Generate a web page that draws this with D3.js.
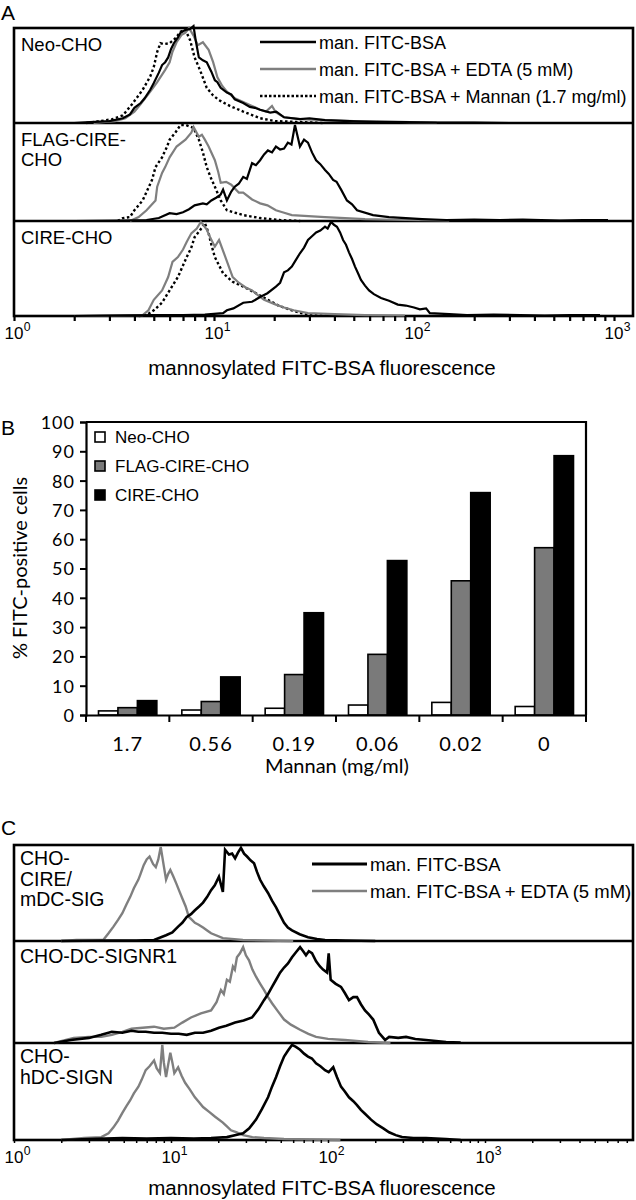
<!DOCTYPE html>
<html><head><meta charset="utf-8">
<script src="https://cdnjs.cloudflare.com/ajax/libs/d3/7.8.5/d3.min.js"></script>
<style>body{margin:0;background:#fff}svg{display:block}</style>
</head><body><svg id="c" width="636" height="1200"></svg>
<script>
// ---------- Panel A data: [fluorescence, % of max count] ----------
const aNeoBlack = [[2.0,0],[2.4,1],[3.0,2],[3.5,5],[3.8,9],[4.0,16],[4.3,21],[4.5,26],[4.8,35],[5.0,42],[5.3,53],[5.5,61],[5.7,64],[5.9,69],[6.1,78],[6.3,84],[6.6,90],[6.8,95],[7.2,98],[7.6,99],[7.9,102],[8.1,87],[8.4,69],[8.8,66],[9.2,64],[9.7,54],[10.1,45],[10.4,43],[10.8,37],[11.6,32],[12.2,30],[12.7,25],[14.0,21],[15.1,17],[16,16],[17.0,14],[19.1,11],[20.5,12],[22.4,6],[26.9,4],[30,5],[35.9,3],[47.9,2],[65,1],[90,1],[130,0.5],[200,0.5],[300,0]];
const aNeoEdta = [[2.5,0],[3.2,2],[3.6,5],[4.0,12],[4.3,20],[4.8,33],[5.2,43],[5.7,56],[6.0,64],[6.2,75],[6.5,85],[6.9,93],[7.2,95],[7.5,100],[7.9,92],[8.3,82],[8.8,85],[9.4,77],[9.9,64],[10.4,48],[11.0,39],[11.6,33],[12.7,26],[14.0,22],[15.5,18],[17.0,14],[18.2,12],[19.5,18],[20.4,11],[22.4,6],[26.9,4],[36,3],[50,2],[65,2],[95,1],[130,0.5]];
const aNeoMannan = [[2.3,0],[2.7,2],[3.1,4],[3.5,8],[3.9,20],[4.4,35],[4.8,49],[5.0,59],[5.2,75],[5.4,84],[5.6,83],[6.0,84],[6.4,89],[6.8,96],[7.2,98],[7.6,87],[8.0,69],[8.5,56],[9.2,37],[9.9,29],[10.6,24],[12.0,18],[14.0,12],[17.0,5],[20.2,2],[27,1],[35,0]];
const aFlagBlack = [[2,0],[3.5,0.5],[4.6,1],[5.3,3],[6.0,8],[6.5,7],[7.0,9],[7.5,12],[8.0,16],[8.8,18],[9.2,17],[9.7,21],[10.3,24],[10.8,27],[11.1,32],[11.6,21],[12.2,30],[12.7,35],[13.3,38],[14.0,45],[14.6,43],[15.5,59],[16.2,57],[17.0,62],[17.8,68],[18.6,72],[19.5,70],[20.4,76],[21.4,73],[22.4,74],[23.4,80],[24.4,78],[25.4,98],[26.9,76],[28.2,83],[29.5,80],[30.9,70],[32.4,62],[34,58],[35.9,52],[37.5,48],[39.4,42],[41,40],[43.2,32],[46.2,21],[49,17],[51.9,11],[62.4,6],[75,4],[91,3],[110,2],[145,1],[200,1.5],[269,1],[350,1.5],[537,0.5],[700,1],[933,1]];
const aFlagEdta = [[3.8,0],[4.2,4],[4.6,11],[5.1,21],[5.2,35],[5.5,49],[5.7,55],[6.0,65],[6.5,76],[7.2,83],[7.7,90],[7.9,96],[8.4,86],[8.7,88],[9.0,83],[9.4,76],[10.1,62],[10.5,50],[10.8,39],[11.5,40],[12.2,37],[13.3,29],[14.0,29],[15.5,22],[17.0,18],[18.5,16],[20.4,11],[22,9],[24.5,6],[35.9,4],[56.9,2],[91,1],[150,0.5]];
const aFlagMannan = [[3.3,0],[3.5,3],[3.8,4],[4.0,11],[4.4,21],[4.9,42],[5.1,55],[5.5,65],[5.8,75],[6.0,83],[6.4,90],[6.8,98],[7.2,98],[7.9,95],[8.4,83],[8.8,70],[9.2,55],[9.6,45],[10.1,35],[10.8,21],[11.6,11],[14.0,6],[17.0,3],[21.4,1],[27,0]];
const aCireBlack = [[2,0],[3,0.5],[5,1],[7.0,1],[9,1.5],[11.1,3],[11.6,6],[12.5,8],[14.0,14],[15.5,15],[17.0,20],[18.5,24],[20.4,31],[21.4,35],[22.4,46],[23.4,48],[24.5,52],[25.5,58],[26.9,66],[28.2,72],[29.5,80],[30.9,84],[32.4,88],[34,90],[35.9,94],[37,92],[38.5,99],[39.8,96],[41.2,94],[42.7,88],[44.2,80],[45.7,75],[47.3,67],[49,60],[50.7,52],[52.5,45],[54.3,38],[56.9,32],[59.6,27],[63,23],[68.4,19],[75,16],[83,12],[91,11],[100,9],[107,7],[115,8],[120,3],[150,2],[184,1],[250,1.5],[339,1],[450,0.5],[600,1],[851,1]];
const aCireEdta = [[2,0],[3,0.5],[4.0,1],[4.4,1],[4.7,6],[5.0,17],[5.5,27],[5.9,41],[6.2,57],[6.6,62],[7.0,70],[7.3,78],[7.7,87],[8.2,92],[8.6,99],[9.2,91],[9.6,82],[10.1,73],[10.6,80],[11.4,62],[12.4,41],[13.3,35],[14.4,30],[15.5,27],[17.0,20],[17.8,17],[20.4,12],[22.4,9],[25,6],[29.5,3],[40,2],[56.9,1],[90,0.5]];
const aCireMannan = [[4.2,0],[4.6,1],[5.0,6],[5.5,14],[6.0,27],[6.6,41],[7.3,62],[7.7,72],[8.0,83],[8.5,90],[9.0,98],[9.4,87],[9.7,75],[10.1,62],[11.1,45],[12.4,36],[14.0,31],[16.2,24],[18.6,17],[21,11],[24.5,6],[29.5,1],[40,0]];

// ---------- Panel B data ----------
const mannanConc = ["1.7","0.56","0.19","0.06","0.02","0"];
const neoCho = [1.4,1.7,2.3,3.4,4.3,2.9];
const flagCireCho = [2.5,4.6,13.8,20.7,45.8,57.1];
const cireCho = [4.9,13.0,34.9,52.7,75.9,88.5];
const bSeriesNames = ["Neo-CHO","FLAG-CIRE-CHO","CIRE-CHO"];
const bTicks = [0,10,20,30,40,50,60,70,80,90,100];

// ---------- Panel C data ----------
const cCireBlack = [[2,0],[4,0.5],[6,0.5],[7.8,1],[9.3,6],[10.2,9],[11.1,15],[11.8,19],[12.6,25],[13.4,28],[14.2,32],[15.1,36],[16.0,40],[17.0,46],[18.0,53],[19.0,58],[20.2,67],[21.4,51],[22.1,95],[23.4,90],[24.5,91],[25.6,86],[26.7,92],[27.9,97],[29.2,91],[30.5,88],[32.1,84],[33.8,81],[35.3,72],[36.9,64],[39,57],[41.5,50],[44,42],[46.7,35],[49.5,27],[52.5,19],[55.5,14],[59.0,11],[66,7],[74.6,4],[85,2],[95.7,1],[130,0.5],[200,0]];
const cCireEdta = [[2.0,0],[2.5,1],[3.0,1],[3.7,1],[4.0,8],[4.3,15],[4.6,22],[4.9,29],[5.2,38],[5.5,46],[5.8,55],[6.2,64],[6.4,70],[6.7,79],[7.0,85],[7.3,88],[7.7,80],[8.0,77],[8.3,85],[8.6,98],[9.0,78],[9.3,64],[9.6,70],[9.9,74],[10.3,68],[10.8,60],[11.3,52],[11.9,43],[12.4,36],[13.0,25],[13.6,22],[14.2,19],[15.0,17],[16.0,14],[17.0,11],[18.0,8],[21.4,3],[28.7,1],[40,0.5],[60,0]];
const cSignr1Black = [[1.8,0],[2.3,3],[3,5],[3.6,8],[4.2,11],[4.9,10],[5.6,12],[6.2,11],[6.9,11],[7.8,10],[8.8,10],[10,9],[11.2,9],[12.6,8],[14.2,10],[16.0,10],[18,12],[20.2,15],[22.5,17],[25.6,20],[29,22],[32.8,25],[36,33],[39.1,42],[41.5,48],[44.0,55],[46.7,62],[49.5,69],[52.5,74],[55.6,78],[59,84],[62.5,89],[66.4,94],[69.5,90],[72.4,86],[75.5,90],[79.1,88],[84,80],[88.9,75],[93,72],[98.6,69],[101,88],[104,62],[112,58],[121,55],[128,49],[136,42],[145,45],[153,45],[162,38],[172,32],[182,28],[194,23],[211,10],[231,3],[245,6],[280,5],[314,6],[360,4],[421,3],[565,1],[700,0.5]];
const cSignr1Edta = [[1.8,0],[2.4,5],[3.0,6],[3.6,6],[4.2,8],[4.9,11],[5.6,14],[6.6,15],[7.8,16],[9,14],[10.5,15],[11.8,20],[13.4,25],[15.5,29],[18.0,32],[19.5,40],[20.8,52],[21.7,48],[22.7,62],[23.7,60],[24.8,75],[25.5,72],[26.3,84],[27.5,88],[28.8,94],[30.0,86],[31.4,81],[33,72],[34.8,65],[37,58],[39.1,52],[41.5,45],[44.0,39],[48,31],[52.5,23],[58,18],[66.4,13],[75,9],[83.9,6],[100,4],[128,3],[180,1],[250,0]];
const cHdcBlack = [[2,0],[3,1],[4.9,2],[7,1.5],[10,2],[14,1.5],[18,2],[22.7,3],[25.5,5],[28.8,7],[31.5,12],[34.8,21],[38,32],[41.5,44],[44,55],[46.7,65],[49.5,76],[52.5,86],[55.5,92],[59.0,98],[62.5,96],[66.4,93],[70.4,89],[74.6,86],[79,84],[83.9,79],[89.5,76],[95.7,72],[101,70],[108,75],[114,65],[121,55],[128,50],[136,44],[145,40],[153,36],[162,31],[172,27],[188,21],[205,16],[225,12],[245,8],[270,5],[296,3],[350,2],[421,2],[565,1],[700,0]];
const cHdcEdta = [[2.0,0],[2.8,2],[3.6,3],[4.0,7],[4.3,13],[4.6,20],[4.9,28],[5.2,35],[5.5,41],[5.8,48],[6.2,55],[6.5,62],[6.9,72],[7.3,76],[7.8,82],[8.1,74],[8.5,69],[8.8,98],[9.0,80],[9.3,65],[9.6,78],[9.9,90],[10.2,80],[10.5,69],[11.1,75],[11.7,66],[12.3,59],[13.2,52],[14.2,44],[15.1,39],[16.0,34],[17.5,29],[19.1,24],[21.4,18],[22.7,14],[24.1,10],[26,8],[28.8,5],[33,3],[39.1,2],[52.5,1],[80,0.5],[120,0]];

const decades = [0,1,2,3];
const minorMult = [1,2,3,4,5,6,7,8,9];

// ---------- drawing ----------
const svg = d3.select("#c");
const HELV = "'Liberation Sans', Arial, Helvetica, sans-serif";
const GILL = "Lato, 'Open Sans', sans-serif";
const GRAY = "#7f7f7f";

function txt(g, x, y, s, size, opts = {}) {
  return g.append("text").attr("x", x).attr("y", y).text(s)
    .attr("font-family", opts.family || HELV).attr("font-size", size)
    .attr("text-anchor", opts.anchor || "start").attr("fill", "#000");
}

function histogram(cfg) {
  const g = svg.append("g");
  const x = d3.scaleLog().domain([1, 1000]).range(cfg.xRange);
  const top = cfg.panels[0].top, bottom = cfg.panels[cfg.panels.length - 1].bottom;
  g.append("rect").attr("x", cfg.left).attr("y", top).attr("width", cfg.right - cfg.left)
    .attr("height", bottom - top).attr("fill", "none").attr("stroke", "#000").attr("stroke-width", 2.6);
  cfg.panels.slice(1).forEach(p => g.append("line").attr("x1", cfg.left).attr("x2", cfg.right)
    .attr("y1", p.top).attr("y2", p.top).attr("stroke", "#000").attr("stroke-width", 2.6));
  cfg.panels.forEach(p => {
    const y = d3.scaleLinear().domain([0, 100]).range([p.bottom, p.top]);
    const line = d3.line().x(d => x(d[0])).y(d => y(d[1]));
    p.curves.forEach(c => {
      g.append("path").attr("d", line(c.data)).attr("fill", "none").attr("stroke", c.color)
        .attr("stroke-width", c.width).attr("stroke-dasharray", c.dash || null)
        .attr("stroke-linejoin", "miter");
    });
    p.label.forEach((t, i) => txt(g, cfg.labelX, p.labelY + i * cfg.labelLH, t, cfg.labelSize));
  });
  cfg.legend.forEach((l, i) => {
    const ly = cfg.legendY + i * cfg.legendDY;
    g.append("line").attr("x1", cfg.legendX0).attr("x2", cfg.legendX1).attr("y1", ly).attr("y2", ly)
      .attr("stroke", l.color).attr("stroke-width", l.width).attr("stroke-dasharray", l.dash || null);
    txt(g, cfg.legendX1 + 3, ly + 6.5, l.name, cfg.legendSize);
  });
  const tickVals = [];
  decades.forEach(k => minorMult.forEach(m => { const v = m * Math.pow(10, k); if (x(v) <= cfg.right - 2) tickVals.push(v); }));
  const ax = g.append("g").attr("transform", `translate(0,${bottom})`)
    .call(d3.axisBottom(x).tickValues(tickVals).tickSize(cfg.tickLen).tickFormat(""));
  ax.select(".domain").remove();
  ax.selectAll("line").attr("stroke", "#000").attr("stroke-width", cfg.tickW);
  decades.forEach(k => {
    const px = Math.max(x(Math.pow(10, k)), 10);
    txt(g, px, cfg.tickLabelY, "10", cfg.tickSize, { anchor: "middle" });
    txt(g, px + cfg.tickSize * 0.58, cfg.tickLabelY - cfg.tickSize * 0.45, String(k), cfg.tickSize * 0.72);
  });
  txt(g, 322, cfg.titleY, "mannosylated FITC-BSA fluorescence", 20.5, { anchor: "middle" });
}

// Panel A
txt(svg, 1, 20, "A", 21);
histogram({
  xRange: [14, 614], left: 14, right: 633,
  panels: [
    { top: 28, bottom: 123, label: ["Neo-CHO"], labelY: 51,
      curves: [{ data: aNeoMannan, color: "#000", width: 2.4, dash: "2.5,2.5" },
               { data: aNeoEdta, color: GRAY, width: 2.2 },
               { data: aNeoBlack, color: "#000", width: 2.2 }] },
    { top: 123, bottom: 221, label: ["FLAG-CIRE-", "CHO"], labelY: 146,
      curves: [{ data: aFlagMannan, color: "#000", width: 2.4, dash: "2.5,2.5" },
               { data: aFlagEdta, color: GRAY, width: 2.2 },
               { data: aFlagBlack, color: "#000", width: 2.2 }] },
    { top: 221, bottom: 316, label: ["CIRE-CHO"], labelY: 244,
      curves: [{ data: aCireMannan, color: "#000", width: 2.4, dash: "2.5,2.5" },
               { data: aCireEdta, color: GRAY, width: 2.2 },
               { data: aCireBlack, color: "#000", width: 2.2 }] }
  ],
  labelX: 21, labelLH: 19.5, labelSize: 18.5,
  legend: [{ name: "man. FITC-BSA", color: "#000", width: 2.6 },
           { name: "man. FITC-BSA + EDTA (5 mM)", color: GRAY, width: 2.4 },
           { name: "man. FITC-BSA + Mannan (1.7 mg/ml)", color: "#000", width: 2.6, dash: "2.5,2" }],
  legendX0: 260, legendX1: 316, legendY: 42, legendDY: 27, legendSize: 18,
  tickLen: 5, tickW: 2.2, tickLabelY: 339, tickSize: 17, titleY: 375
});

// Panel B
(function () {
  const g = svg.append("g");
  txt(g, 1, 435, "B", 21);
  const x = d3.scaleBand().domain(mannanConc).range([86, 586]).padding(0);
  const y = d3.scaleLinear().domain([0, 100]).range([715, 422]);
  const inner = d3.scaleBand().domain(bSeriesNames).range([x.bandwidth() * 0.15, x.bandwidth() * 0.85]).padding(0);
  const fills = ["#ffffff", "#7a7a7a", "#000000"];
  const series = [neoCho, flagCireCho, cireCho];
  g.append("path").attr("d", `M${x.range()[0]},${y(100)}H${x.range()[1]}V${y(0)}`)
    .attr("fill", "none").attr("stroke", "#000").attr("stroke-width", 2.2);
  series.forEach((vals, si) => {
    g.selectAll(null).data(mannanConc).enter().append("rect")
      .attr("x", d => x(d) + inner(bSeriesNames[si]))
      .attr("width", inner.bandwidth())
      .attr("y", (d, i) => y(vals[i]))
      .attr("height", (d, i) => y(0) - y(vals[i]))
      .attr("fill", fills[si]).attr("stroke", "#000").attr("stroke-width", 1.6);
  });
  const ya = g.append("g").attr("transform", "translate(86,0)")
    .call(d3.axisLeft(y).tickValues(bTicks).tickSize(6).tickPadding(5));
  ya.select(".domain").attr("stroke-width", 2.2);
  ya.selectAll("line").attr("stroke-width", 2);
  ya.selectAll("text").attr("font-family", GILL).attr("font-size", 18).attr("letter-spacing", 1).attr("dy", "0.36em");
  const xa = g.append("g").attr("transform", "translate(0,715)")
    .call(d3.axisBottom(x).tickSize(0).tickPadding(22));
  xa.select(".domain").attr("stroke-width", 2.2);
  xa.selectAll("text").attr("font-family", GILL).attr("font-size", 20).attr("letter-spacing", 1);
  const bounds = mannanConc.map(d => x(d)).concat([x.range()[1]]);
  g.selectAll(null).data(bounds).enter().append("line")
    .attr("x1", d => d).attr("x2", d => d).attr("y1", 715).attr("y2", 722)
    .attr("stroke", "#000").attr("stroke-width", 2);
  txt(g, 337, 773, "Mannan (mg/ml)", 20, { anchor: "middle", family: GILL });
  g.append("text").attr("transform", "translate(27,568) rotate(-90)").attr("text-anchor", "middle")
    .attr("font-family", GILL).attr("font-size", 20).text("% FITC-positive cells");
  bSeriesNames.forEach((n, i) => {
    const cy = 437 + i * 29;
    g.append("rect").attr("x", 95).attr("y", cy - 5).attr("width", 10).attr("height", 10)
      .attr("fill", fills[i]).attr("stroke", "#000").attr("stroke-width", 1.6);
    txt(g, 115, cy + 6, n, 17);
  });
})();

// Panel C
txt(svg, 1, 835, "C", 21);
histogram({
  xRange: [14, 485], left: 14, right: 633,
  panels: [
    { top: 845, bottom: 941, label: ["CHO-", "CIRE/", "mDC-SIG"], labelY: 865,
      curves: [{ data: cCireEdta, color: GRAY, width: 2.4 },
               { data: cCireBlack, color: "#000", width: 2.6 }] },
    { top: 941, bottom: 1043, label: ["CHO-DC-SIGNR1"], labelY: 963,
      curves: [{ data: cSignr1Edta, color: GRAY, width: 2.4 },
               { data: cSignr1Black, color: "#000", width: 2.6 }] },
    { top: 1043, bottom: 1140, label: ["CHO-", "hDC-SIGN"], labelY: 1063,
      curves: [{ data: cHdcEdta, color: GRAY, width: 2.4 },
               { data: cHdcBlack, color: "#000", width: 2.6 }] }
  ],
  labelX: 20, labelLH: 20.5, labelSize: 19.5,
  legend: [{ name: "man. FITC-BSA", color: "#000", width: 2.8 },
           { name: "man. FITC-BSA + EDTA (5 mM)", color: GRAY, width: 2.6 }],
  legendX0: 312, legendX1: 367, legendY: 864, legendDY: 27, legendSize: 18.5,
  tickLen: 3, tickW: 1.5, tickLabelY: 1163, tickSize: 17, titleY: 1195
});
</script></body></html>
